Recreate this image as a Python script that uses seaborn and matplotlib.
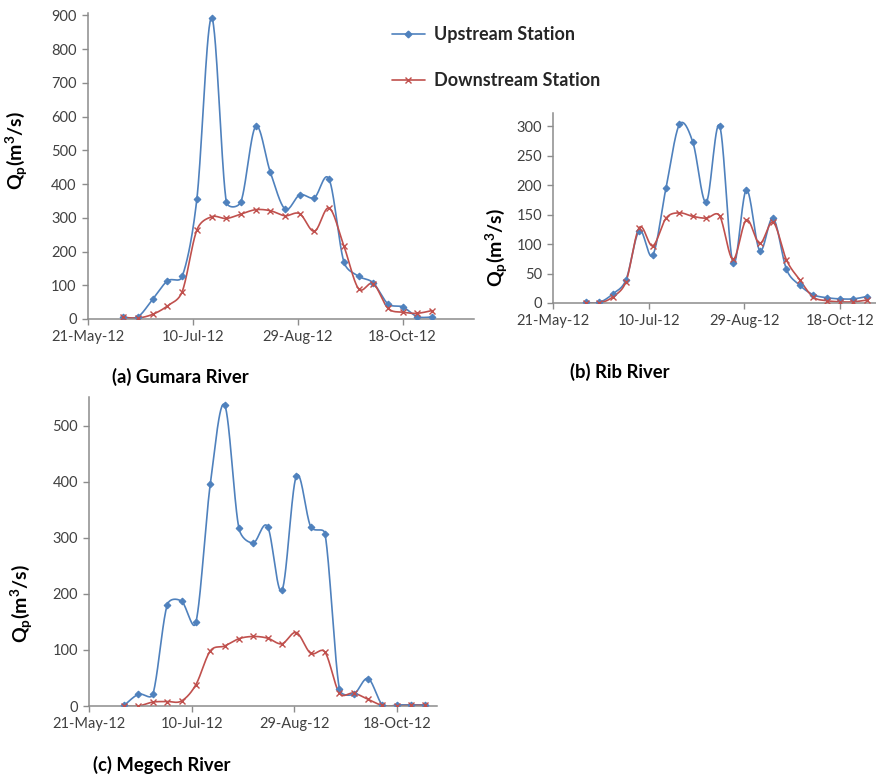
import numpy as np
import pandas as pd
import matplotlib
matplotlib.use("Agg")
import matplotlib.pyplot as plt
import matplotlib.dates as mdates
from matplotlib.lines import Line2D
import seaborn as sns

# ---- data -------------------------------------------------------------
dates = pd.date_range("2012-06-07", periods=22, freq="7D")

gumara_up = [5, 7, 59, 113, 126, 356, 893, 348, 348, 571, 435, 326,
             368, 360, 414, 170, 127, 107, 45, 36, 7, 6]
gumara_down = [5, 3, 14, 39, 81, 264, 303, 298, 311, 324, 321, 306,
               312, 260, 329, 217, 90, 105, 32, 20, 17, 25]

rib_up = [1, 1, 15, 39, 123, 81, 196, 303, 273, 171, 301, 68,
          192, 89, 144, 57, 30, 14, 9, 7, 7, 11]
rib_down = [0, 0, 10, 36, 128, 97, 144, 153, 147, 144, 148, 74,
            141, 101, 137, 73, 39, 10, 4, 2, 2, 5]

megech_up = [1, 21, 21, 180, 187, 149, 395, 537, 317, 291, 320, 206,
             410, 320, 307, 31, 21, 49, 2, 2, 2, 2]
megech_down = [0, 0, 7, 8, 9, 38, 98, 107, 120, 124, 121, 111,
               131, 94, 96, 23, 23, 12, 1, 0, 1, 1]

tick_dates = ["2012-05-21", "2012-07-10", "2012-08-29", "2012-10-18"]
series_names = ["Upstream Station", "Downstream Station"]
captions = ["(a) Gumara River", "(b) Rib River", "(c) Megech River"]

# ---- style ------------------------------------------------------------
sns.set_theme(style="white")
plt.rcParams["font.family"] = ["Lato", "DejaVu Sans"]
plt.rcParams["mathtext.fontset"] = "custom"
plt.rcParams["mathtext.rm"] = "Lato:bold"
plt.rcParams["mathtext.it"] = "Lato:bold"
plt.rcParams["mathtext.bf"] = "Lato:bold"

UP_COLOR = "#4F81BD"
DOWN_COLOR = "#C0504D"
AXIS_COLOR = "#8C8C8C"
TEXT_COLOR = "#404040"

W, H = 876, 778
fig = plt.figure(figsize=(W / 100, H / 100), dpi=100)
fig.patch.set_facecolor("white")

base = pd.Timestamp("2012-05-21")


def px_axes(left, top, right, bottom):
    return fig.add_axes([left / W, 1 - bottom / H, (right - left) / W, (bottom - top) / H])


def smooth_curve(pts, n=30):
    """Bezier smoothing through every point, with control arms limited to
    half of the segment length (computed in display space)."""
    out = []
    m = len(pts)
    for i in range(m - 1):
        p0 = pts[i - 1] if i > 0 else pts[i]
        p1, p2 = pts[i], pts[i + 1]
        p3 = pts[i + 2] if i + 2 < m else pts[i + 1]
        d12 = np.linalg.norm(p2 - p1)
        d02 = np.linalg.norm(p2 - p0)
        d13 = np.linalg.norm(p3 - p1)
        f1 = f2 = 1.0 / 6.0
        if d02 > 0 and d02 / 6.0 >= d12 / 2.0:
            f1 = d12 / (2.0 * d02)
        if d13 > 0 and d13 / 6.0 >= d12 / 2.0:
            f2 = d12 / (2.0 * d13)
        c1 = p1 + f1 * (p2 - p0)
        c2 = p2 - f2 * (p3 - p1)
        t = np.linspace(0, 1, n, endpoint=(i == m - 2))[:, None]
        seg = ((1 - t) ** 3) * p1 + 3 * ((1 - t) ** 2) * t * c1 + 3 * (1 - t) * t ** 2 * c2 + t ** 3 * p2
        out.append(seg)
    return np.vstack(out)


def set_limits(ax, xmax_days, ymax):
    ax.set_xlim(base, base + pd.Timedelta(days=xmax_days))
    ax.set_ylim(0, ymax)


def draw_series(ax, values, color, marker, msize, mew):
    xnum = mdates.date2num(dates.to_pydatetime())
    disp = ax.transData.transform(np.column_stack([xnum, np.asarray(values, float)]))
    curve = ax.transData.inverted().transform(smooth_curve(disp))
    cdf = pd.DataFrame({
        "date": pd.to_datetime(mdates.num2date(curve[:, 0])).tz_localize(None),
        "q": curve[:, 1],
    })
    sns.lineplot(data=cdf, x="date", y="q", ax=ax, sort=False, estimator=None,
                 color=color, linewidth=1.2, zorder=2)
    pdf = pd.DataFrame({"date": dates, "q": values})
    ax.plot(pdf["date"], pdf["q"], linestyle="none", marker=marker, markersize=msize,
            markeredgewidth=mew, color=color, zorder=3)


def style_axes(ax, xmax_days, ymax, ystep):
    set_limits(ax, xmax_days, ymax)
    ax.set_xticks(pd.to_datetime(tick_dates))
    ax.xaxis.set_major_formatter(mdates.DateFormatter("%d-%b-%y"))
    ax.set_yticks(np.arange(0, ymax + 1e-9, ystep))
    for s in ["top", "right"]:
        ax.spines[s].set_visible(False)
    for s in ["left", "bottom"]:
        ax.spines[s].set_color(AXIS_COLOR)
        ax.spines[s].set_linewidth(1.1)
    ax.tick_params(axis="both", direction="out", length=4, width=1, color=AXIS_COLOR,
                   labelsize=10.5, labelcolor=TEXT_COLOR, pad=4, bottom=True, left=True)
    ax.set_xlabel("")
    ax.set_ylabel("")
    ax.set_facecolor("none")


ylabel = r"Q$_{\mathregular{p}}$(m$^{\mathregular{3}}$/s)"

panels = [
    # (box px: left, top, right, bottom), xmax days, ymax, ystep, up, down, ylabel xy, caption xy
    ((87.7, 13.0, 474.0, 319.0), 184, 907, 100, gumara_up, gumara_down, (17, 151), (112, 377)),
    ((553.3, 112.7, 905.0, 303.0), 184, 323, 50, rib_up, rib_down, (497, 248), (570, 372)),
    ((89.3, 397.3, 436.7, 706.0), 169.5, 550.5, 100, megech_up, megech_down, (22, 604), (93, 765)),
]

axes = []
for (box, xmax, ymax, ystep, up, down, ylab_xy, cap_xy), cap in zip(panels, captions):
    ax = px_axes(*box)
    set_limits(ax, xmax, ymax)
    draw_series(ax, up, UP_COLOR, "D", 3.4, 0.8)
    draw_series(ax, down, DOWN_COLOR, "x", 4.5, 1.0)
    style_axes(ax, xmax, ymax, ystep)
    fig.text(ylab_xy[0] / W, 1 - ylab_xy[1] / H, ylabel, rotation=90, ha="center", va="center",
             fontsize=14, fontweight="bold", color="black")
    fig.text(cap_xy[0] / W, 1 - cap_xy[1] / H, cap, ha="left", va="center",
             fontsize=13.3, fontweight="bold", color="black")
    axes.append(ax)

handles = [
    Line2D([], [], color=UP_COLOR, linewidth=1.2, marker="D", markersize=3.4),
    Line2D([], [], color=DOWN_COLOR, linewidth=1.2, marker="x", markersize=4.5, markeredgewidth=1.0),
]
leg = fig.legend(handles, series_names, loc="upper left", bbox_to_anchor=(383 / W, 1 - 17 / H),
                 frameon=False, borderpad=0, handlelength=1.8, handletextpad=0.5,
                 labelspacing=1.6, prop={"family": ["Lato", "DejaVu Sans"], "weight": "bold", "size": 13})

fig.savefig("out.png", dpi=100, facecolor="white")
